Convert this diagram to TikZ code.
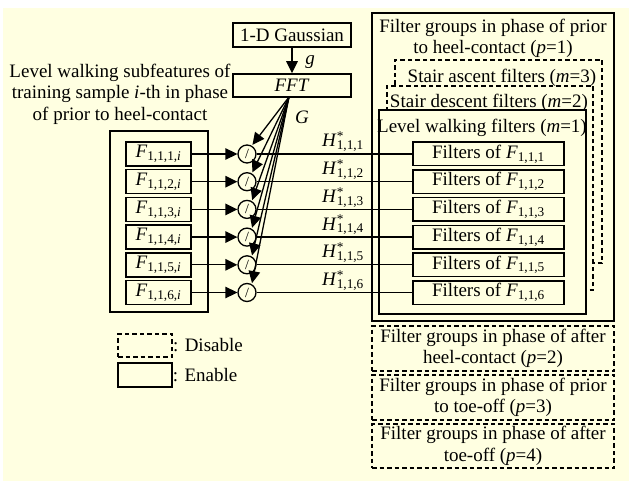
\documentclass[tikz,border=0pt]{standalone}
\usepackage{fontspec}
\setmainfont{Liberation Serif}
\usetikzlibrary{arrows.meta, positioning}
\definecolor{paperbg}{RGB}{255,255,225}

\begin{document}
\begin{tikzpicture}[x=1pt, y=-1pt,
  font=\fontsize{19}{21.5}\selectfont,
  every node/.style={inner sep=0pt},
  box/.style={draw, line width=1.5pt, fill=paperbg},
  offbox/.style={draw, line width=1.9pt, dash pattern=on 4.5pt off 3pt, fill=paperbg},
  arr/.style={line width=1.3pt, -{Triangle[length=12pt, width=11.5pt]}},
  divi/.style={draw, circle, line width=1.3pt, minimum size=18pt, fill=paperbg, font=\fontsize{14}{14}\selectfont}]

  % paper
  \fill[white] (0,0) rectangle (629,481);
  \fill[paperbg] (3,8) rectangle (629,481);
  \useasboundingbox (0,0) rectangle (629,481);

  % kernel generation
  \node[box, minimum width=118pt, minimum height=24pt] (gauss) at (292,35) {1-D Gaussian};
  \node[box, minimum width=118pt, minimum height=23pt] (fft) at (292,85.5) {\textit{FFT}};
  \draw[arr] (gauss) -- (fft);
  \node (glab) at (310,62) {\textit{g}};
  \node (Glab) at (302,117) {\textit{G}};
  \coordinate (fo) at (289,97);

  % subfeatures of the training sample
  \node[align=center] (caption) at (120,94) {Level walking subfeatures of\\training sample \textit{i}-th in phase\\of prior to heel-contact};
  \node[box, minimum width=98pt, minimum height=181pt] (subf) at (159,221.5) {};

  % filter groups, p = 1
  \node[box, minimum width=242pt, minimum height=308pt] (phase1) at (493,167) {};
  \node[align=center] (phase1txt) at (493,38.5) {Filter groups in phase of prior\\to heel-contact (\textit{p}=1)};
  \node[offbox, minimum width=207pt, minimum height=203pt] (ascent) at (498.5,161.5) {};
  \node (ascenttxt) at (502,78) {Stair ascent filters (\textit{m}=3)};
  \node[offbox, minimum width=206pt, minimum height=204pt] (descent) at (490,188) {};
  \node (descenttxt) at (489,103) {Stair descent filters (\textit{m}=2)};
  \node[box, minimum width=207pt, minimum height=204pt] (level) at (482.5,212) {};
  \node (leveltxt) at (482,128) {Level walking filters (\textit{m}=1)};

  \foreach \k in {1,...,6} {
    \pgfmathsetmacro{\yy}{154+27.7*(\k-1)}
    \node[box, minimum width=65pt, minimum height=24pt] (F\k) at (158.5,\yy) {\textit{F}\textsubscript{1,1,\k,\textit{i}}};
    \node[divi] (c\k) at (247,\yy) {/};
    \node[box, minimum width=151pt, minimum height=23.5pt] (fil\k) at (488.5,\yy) {Filters of \textit{F}\textsubscript{1,1,\k}};
    \node[anchor=base west] (h\k) at (322,\yy-7) {\textit{H}\rlap{\textsuperscript{*}}\textsubscript{1,1,\k}};
    \draw[arr] (F\k) -- (c\k);
    \draw[line width=1.3pt] (c\k) -- (fil\k);
    \draw[arr, shorten >=1pt] (fo) -- (c\k.60);
  }

  % filter groups, p = 2..4
  \node[offbox, minimum width=242pt, minimum height=45pt, align=center] (phase2) at (493,348.5) {Filter groups in phase of after\\heel-contact (\textit{p}=2)};
  \node[offbox, minimum width=242pt, minimum height=45pt, align=center] (phase3) at (493,397.5) {Filter groups in phase of prior\\to toe-off (\textit{p}=3)};
  \node[offbox, minimum width=242pt, minimum height=44pt, align=center] (phase4) at (493,446) {Filter groups in phase of after\\toe-off (\textit{p}=4)};

  % legend
  \node[offbox, minimum width=54pt, minimum height=23pt] (legoff) at (145,345.5) {};
  \node[anchor=west] (legofftxt) at (legoff.east) {: Disable};
  \node[box, minimum width=54pt, minimum height=24pt] (legon) at (145,375) {};
  \node[anchor=west] (legontxt) at (legon.east) {: Enable};
\end{tikzpicture}
\end{document}
